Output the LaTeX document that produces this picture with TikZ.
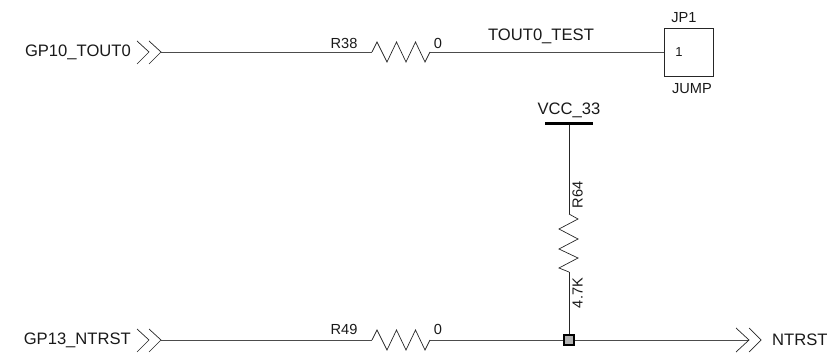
\documentclass[tikz,border=0pt]{standalone}
\usepackage{fontspec}
\setmainfont{Liberation Sans}
\begin{document}
\begin{tikzpicture}[x=1pt,y=-1pt,
  wire/.style={draw=black!70,line width=0.95pt},
  thin part/.style={draw=black!85,line width=0.7pt,line join=miter},
  big/.style={inner sep=0pt,font=\fontsize{16.6}{18}\selectfont,text=black!90},
  small/.style={inner sep=0pt,font=\fontsize{14.6}{16}\selectfont,text=black!90},
  tiny label/.style={inner sep=0pt,font=\fontsize{13}{14}\selectfont,text=black!90},
  jumper/.style={draw=black!85,line width=0.8pt,fill=white,minimum width=49pt,minimum height=48pt,inner sep=0pt,outer sep=0pt},
  junction/.style={draw=black,line width=2.2pt,fill=black!30,minimum size=10pt,inner sep=0pt,outer sep=0pt}]
\useasboundingbox (0,0) rectangle (830,355);

% nodes
\node[jumper] (jp) at (688.5,52) {};
\node[tiny label] (pin) at (679,52) {1};
\coordinate (a1) at (161,52);
\coordinate (r1a) at (372,52);
\coordinate (r1b) at (430,52);
\coordinate (a2) at (161,340);
\coordinate (r2a) at (372,340);
\coordinate (r2b) at (430,340);
\coordinate (vcc) at (569,124);
\coordinate (r3a) at (569,214);
\coordinate (r3b) at (569,272);
\coordinate (a3) at (749,340);
\coordinate (dotc) at (569,340);

% wires
\draw[wire] (a1) -- (r1a);
\draw[wire] (r1b) -- (jp.west);
\draw[wire] (a2) -- (r2a);
\draw[wire] (r2b) -- (dotc);
\draw[wire] (dotc) -- (a3);
\draw[thin part] (vcc) -- (r3a);
\draw[thin part] (r3b) -- (dotc);
\node[junction] (dot) at (dotc) {};

% resistors
\draw[thin part] (r1a) -- ++(5,-10) -- ++(10,20) -- ++(9.5,-20) -- ++(9.5,20) -- ++(9.5,-20) -- ++(9.5,20) -- (r1b);
\draw[thin part] (r2a) -- ++(5,-10) -- ++(10,20) -- ++(9.5,-20) -- ++(9.5,20) -- ++(9.5,-20) -- ++(9.5,20) -- (r2b);
\draw[thin part] (r3a) -- ++(9,5) -- ++(-19,10) -- ++(19,10) -- ++(-19,10) -- ++(19,9) -- ++(-19,10) -- (r3b);

% chevrons
\draw[thin part] (137,41) -- (149,52) -- (137,64);
\draw[thin part] (149,41) -- (a1) -- (149,64);
\draw[thin part] (137,329) -- (149,340) -- (137,352);
\draw[thin part] (149,329) -- (a2) -- (149,352);
\draw[thin part] (736,328) -- (a3) -- (736,352);
\draw[thin part] (749,328) -- (761,340) -- (749,352);

% power bar
\draw[draw=black,line width=3pt] (545,124) -- (593,124);

% labels
\node[big,anchor=east] (l1) at (131,52) {GP10\_TOUT0};
\node[big,anchor=east] (l2) at (131,340) {GP13\_NTRST};
\node[big,anchor=west] (l3) at (772,340) {NTRST};
\node[big] (l4) at (541,36) {TOUT0\_TEST};
\node[big] (l5) at (569,110) {VCC\_33};
\node[small] (l6) at (344,43.5) {R38};
\node[small] (l7) at (438,43.5) {0};
\node[small] (l8) at (344,329.5) {R49};
\node[small] (l9) at (438,329.5) {0};
\node[small] (l10) at (684,18) {JP1};
\node[small] (l11) at (692,89) {JUMP};
\node[small,rotate=90] (l12) at (577.5,195) {R64};
\node[small,rotate=90] (l13) at (577.5,293) {4.7K};
\end{tikzpicture}
\end{document}
